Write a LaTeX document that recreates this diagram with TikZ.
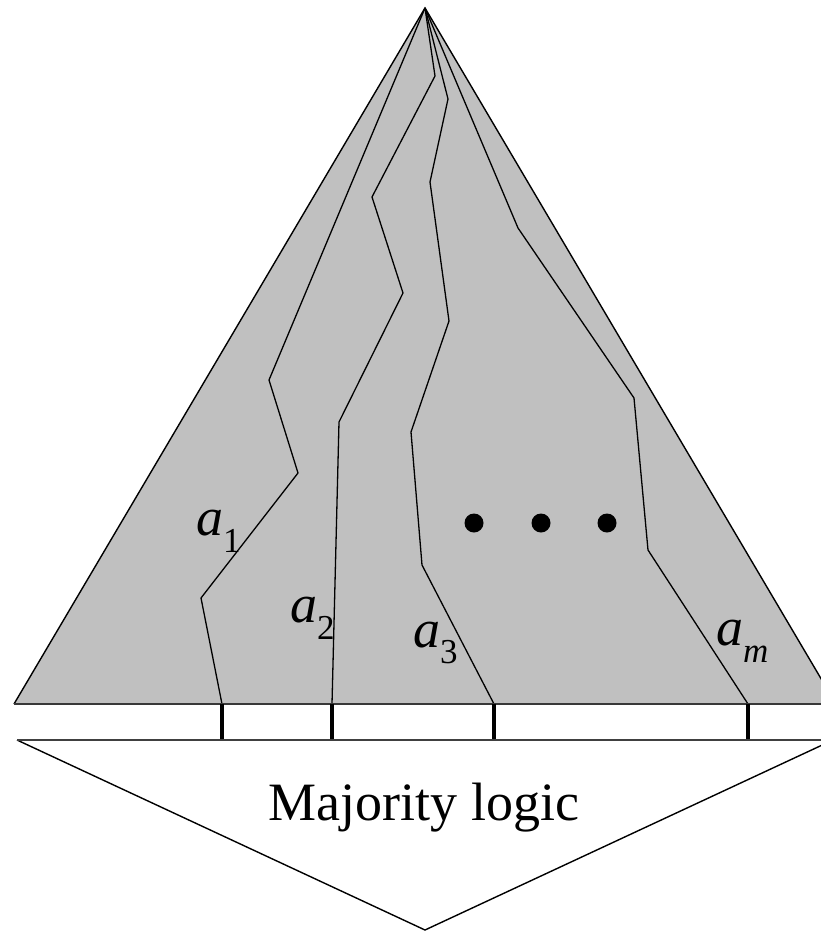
\documentclass[tikz,border=0pt]{standalone}
\usepackage{fontspec}
\setmainfont{Liberation Serif}
\begin{document}
\begin{tikzpicture}[x=1pt,y=-1pt,
  edgeline/.style={line width=1.4pt, line join=miter},
  pathline/.style={line width=1.3pt, line join=miter},
  baseline bar/.style={line width=2.6pt, draw=black!78},
  lowbar/.style={line width=1.6pt, draw=black!75},
  tickmark/.style={line width=3.6pt, draw=black},
  dotmark/.style={circle, fill=black, draw=none, minimum size=19pt, inner sep=0pt},
  lbl/.style={anchor=base west, inner sep=0pt, font=\fontsize{54}{60}\selectfont\itshape},
  sub/.style={font=\fontsize{35}{40}\selectfont},
  bigtext/.style={anchor=base, inner sep=0pt, font=\fontsize{54}{60}\selectfont}]
\useasboundingbox (0,0) rectangle (821,932);
\clip (0,0) rectangle (821,932);
% key points
\coordinate (apex) at (425,8);
\coordinate (bl) at (14,704);
\coordinate (br) at (836,704);
\coordinate (vl) at (17,740);
\coordinate (vr) at (833,740);
\coordinate (vtip) at (425,930);
% triangle
\fill[fill={rgb,255:red,192;green,192;blue,192}] (apex) -- (br) -- (bl) -- cycle;
\draw[edgeline] (bl) -- (apex) -- (br);
% paths
\coordinate (p1) at (222,704);
\coordinate (p2) at (332,704);
\coordinate (p3) at (494,704);
\coordinate (p4) at (748,704);
\draw[pathline] (apex) -- (269,380) -- (298,473) -- (201,598) -- (p1);
\draw[pathline] (apex) -- (435,76) -- (372,197) -- (403,293) -- (339,422) -- (p2);
\draw[pathline] (apex) -- (448,99) -- (430,182) -- (449,321) -- (411,432) -- (422,565) -- (p3);
\draw[pathline] (apex) -- (518,228) -- (634,398) -- (648,550) -- (p4);
% bars
\draw[baseline bar] (bl) -- (br);
\coordinate (t1) at (222,740);
\coordinate (t2) at (332,740);
\coordinate (t3) at (494,740);
\coordinate (t4) at (748,740);
\draw[tickmark] (p1) -- (t1);
\draw[tickmark] (p2) -- (t2);
\draw[tickmark] (p3) -- (t3);
\draw[tickmark] (p4) -- (t4);
% majority logic triangle
\fill[white] (vl) -- (vtip) -- (vr) -- cycle;
\draw[edgeline] (vl) -- (vtip) -- (vr);
\draw[lowbar] (vl) -- (vr);
\node[bigtext] (ml) at (424,820) {Majority logic};
% dots
\node[dotmark] (d1) at (474,523) {};
\node[dotmark] (d2) at (541,523) {};
\node[dotmark] (d3) at (607,523) {};
% labels
\node[lbl] (a1) at (196,535) {a\raisebox{-17pt}{\fontsize{35}{40}\selectfont\upshape 1}};
\node[lbl] (a2) at (290,622) {a\raisebox{-17pt}{\fontsize{35}{40}\selectfont\upshape 2}};
\node[lbl] (a3) at (413,647) {a\raisebox{-16pt}{\fontsize{35}{40}\selectfont\upshape 3}};
\node[lbl] (am) at (716,645) {a\raisebox{-17pt}{\fontsize{35}{40}\selectfont m}};
\end{tikzpicture}
\end{document}
